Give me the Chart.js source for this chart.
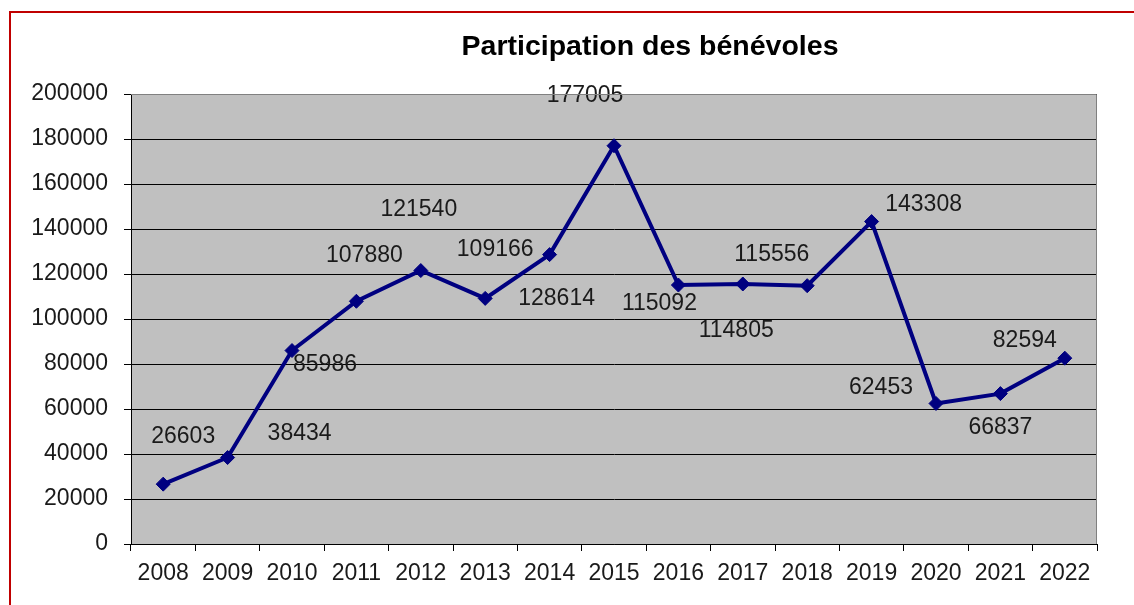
<!DOCTYPE html>
<html>
<head>
	<meta charset="utf-8">
	<script type="text/javascript" src="https://cdn.jsdelivr.net/npm/chart.js@4.4.0/dist/chart.umd.min.js"></script>
	<style>
		html, body { margin: 0; padding: 0; background: #fff; overflow: hidden; }
		#frame { position: absolute; left: 9px; top: 11px; width: 1200px; height: 700px; border: 2px solid #C00000; }
		#wrap { position: absolute; left: 0; top: 0; width: 1134px; height: 605px; }
	</style>
</head>

<body>
	<div id="frame"></div>
	<div id="wrap">
		<canvas id="chartBenevoles" width="1134" height="605"></canvas>
	</div>

	<script type="text/javascript">
		// data
		var chartTitle = 'Participation des bénévoles';
		var years = ['2008', '2009', '2010', '2011', '2012', '2013', '2014', '2015', '2016', '2017', '2018', '2019', '2020', '2021', '2022'];
		var participants = [26603, 38434, 85986, 107880, 121540, 109166, 128614, 177005, 115092, 115556, 114805, 143308, 62453, 66837, 82594];
		var yTicks = [0, 20000, 40000, 60000, 80000, 100000, 120000, 140000, 160000, 180000, 200000];

		// where each value label sits, relative to its point (px)
		var labelShift = [
			[20, -47], [72, -24], [33, 14], [8, -46], [-2, -61],
			[10, -49], [7, 44], [-29, -50], [-19, 19], [29, -29],
			[-71, 45], [52, -17], [-55, -16], [0, 34], [-40, -18]
		];

		var fontFam = 'Liberation Sans';

		var plotBg = {
			id: 'plotBg',
			beforeDraw: function(chart) {
				var a = chart.chartArea, ctx = chart.ctx;
				ctx.save();
				ctx.fillStyle = '#C0C0C0';
				ctx.fillRect(a.left, a.top, a.right - a.left, a.bottom - a.top);
				ctx.restore();
			},
			afterDraw: function(chart) {
				var a = chart.chartArea, ctx = chart.ctx;
				ctx.save();
				// grey border on top and right of the plot
				ctx.strokeStyle = '#808080';
				ctx.lineWidth = 1;
				ctx.beginPath();
				ctx.moveTo(a.left, a.top + 0.5);
				ctx.lineTo(a.right - 0.5, a.top + 0.5);
				ctx.lineTo(a.right - 0.5, a.bottom);
				ctx.stroke();
				// title, sitting a bit right of the canvas centre like the original
				ctx.font = 'bold 28.5px "Liberation Sans", Arial, sans-serif';
				ctx.fillStyle = '#000';
				ctx.textAlign = 'center';
				ctx.textBaseline = 'middle';
				ctx.fillText(chartTitle, 650, 47);
				ctx.restore();
			}
		};

		var valueLabels = {
			id: 'valueLabels',
			afterDatasetsDraw: function(chart) {
				var ctx = chart.ctx;
				var meta = chart.getDatasetMeta(0);
				ctx.save();
				ctx.font = '23px "Liberation Sans", Arial, sans-serif';
				ctx.fillStyle = '#1a1a1a';
				ctx.textAlign = 'center';
				ctx.textBaseline = 'middle';
				for (var i = 0; i < meta.data.length; i++) {
					var p = meta.data[i];
					ctx.fillText(String(participants[i]), p.x + labelShift[i][0], p.y + labelShift[i][1]);
				}
				ctx.restore();
			}
		};

		var ctx = document.getElementById('chartBenevoles').getContext('2d');
		var chart = new Chart(ctx, {
			type: 'line',
			data: {
				labels: years,
				datasets: [{
					label: 'Participation',
					data: participants,
					borderColor: '#000080',
					backgroundColor: '#000080',
					borderWidth: 4,
					pointStyle: 'rectRot',
					pointRadius: 7,
					pointBorderWidth: 1,
					tension: 0
				}]
			},
			options: {
				responsive: false,
				animation: false,
				devicePixelRatio: 1,
				layout: { padding: { left: 0, right: 37, top: 94, bottom: 0 } },
				plugins: {
					legend: { display: false },
					tooltip: { enabled: false },
					title: { display: false }
				},
				scales: {
					x: {
						offset: true,
						grid: { offset: true, drawOnChartArea: false, color: '#000', tickLength: 7 },
						border: { color: '#000', width: 1 },
						ticks: { color: '#1a1a1a', font: { family: fontFam, size: 23 }, padding: 9, maxRotation: 0, autoSkip: false },
						afterFit: function(s) { s.height = 61; }
					},
					y: {
						min: 0,
						max: 200000,
						afterBuildTicks: function(s) { s.ticks = yTicks.map(function(v) { return { value: v }; }); },
						grid: { color: '#000', lineWidth: 1, tickLength: 7 },
						border: { color: '#000', width: 1 },
						ticks: { color: '#1a1a1a', font: { family: fontFam, size: 23 }, padding: 16, callback: function(v) { return String(v); } },
						afterFit: function(s) { s.width = 131; }
					}
				}
			},
			plugins: [plotBg, valueLabels]
		});
	</script>
</body>
</html>
